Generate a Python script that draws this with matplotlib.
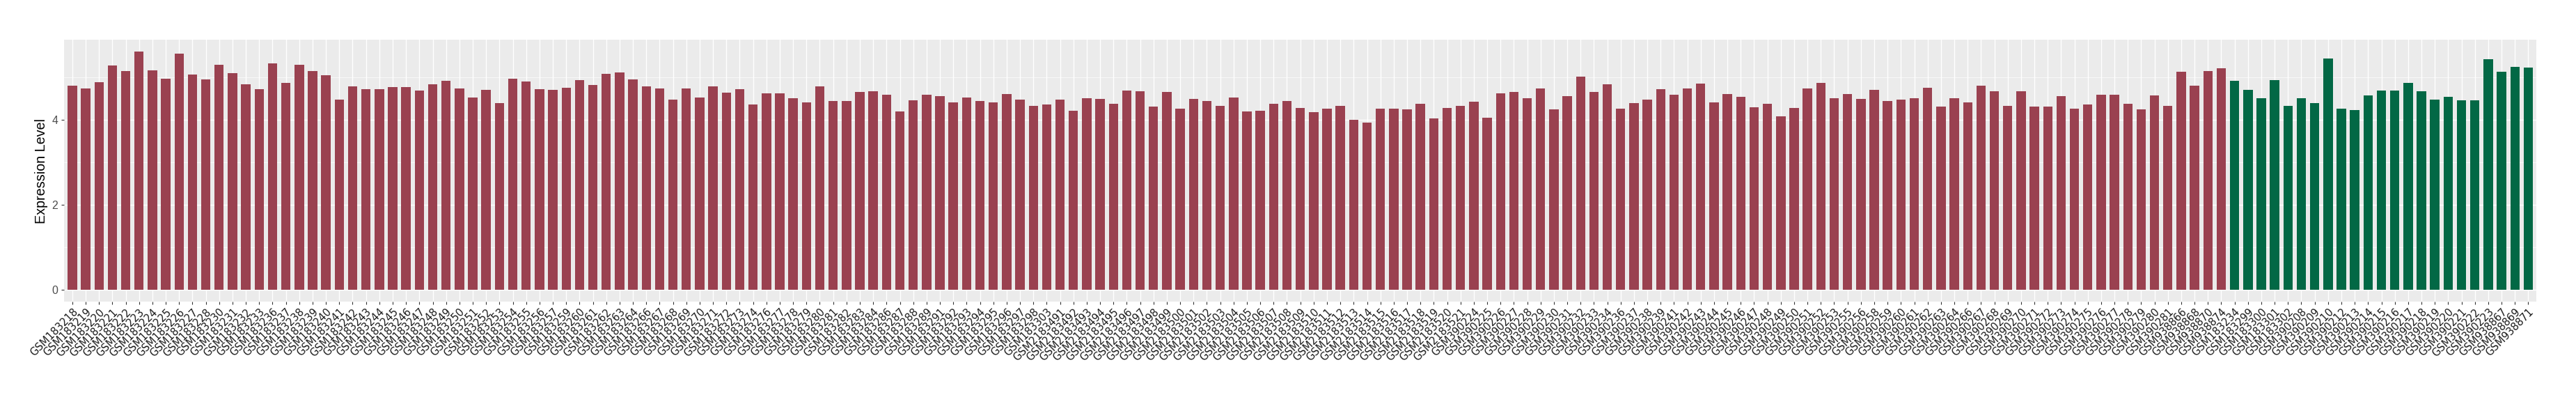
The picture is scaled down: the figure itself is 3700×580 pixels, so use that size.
import numpy as np
import matplotlib.pyplot as plt
from matplotlib.ticker import MultipleLocator

# sample ids, grouped by GEO prefix, in plotted order
tumor_183 = [218, 219, 220, 221, 222, 223, 224, 225, 226, 227, 228, 230, 231, 232, 233,
             236, 237, 238, 239, 240, 241, 242, 243, 244, 245, 246, 247, 248, 249, 250,
             251, 252, 253, 254, 255, 256, 257, 259, 260, 261, 262, 263, 264, 266, 267,
             268, 269, 270, 271, 272, 273, 274, 276, 277, 278, 279, 280, 281, 282, 283,
             284, 286, 287, 288, 289, 291, 292, 293, 294, 295, 296, 297, 298, 303]
tumor_2183 = list(range(491, 522))
tumor_390 = [224, 225, 226, 227, 228, 229, 230, 231, 232, 233, 234, 236, 237, 238, 239,
             241, 242, 243, 244, 245, 246, 247, 248, 249, 250, 251, 252, 253, 255, 256,
             258, 259, 260, 261, 262, 263, 264, 266, 267, 268, 269, 270, 271, 272, 273,
             274, 275, 276, 277, 278, 279, 280, 281]
tumor_938 = [866, 868, 870, 874]

normal_183 = [234, 299, 300, 301, 302]
normal_390 = [208, 209, 210, 212, 213, 214, 215, 216, 217, 218, 219, 220, 221, 222, 223]
normal_938 = [867, 869, 871]

tumor_vals = [4.80, 4.74, 4.88, 5.28, 5.15, 5.61, 5.17, 4.97, 5.56, 5.07, 4.95, 5.30, 5.10,
              4.84, 4.72, 5.33, 4.87, 5.30, 5.15, 5.05, 4.47, 4.79, 4.72, 4.72, 4.77, 4.77,
              4.69, 4.84, 4.92, 4.74, 4.52,
              4.70, 4.39, 4.97, 4.90, 4.72,
              4.70, 4.75, 4.93, 4.82, 5.08, 5.11, 4.95, 4.79, 4.74, 4.48, 4.74, 4.52, 4.79,
              4.64, 4.72,
              4.36, 4.62, 4.62, 4.51, 4.41, 4.79, 4.44, 4.44, 4.66, 4.67, 4.59, 4.20, 4.46, 4.59,
              4.56, 4.41, 4.52, 4.44, 4.41, 4.61, 4.48, 4.33, 4.36, 4.48, 4.21, 4.51, 4.49,
              4.38, 4.69,
              4.67, 4.31, 4.66, 4.26, 4.49, 4.44, 4.33, 4.52, 4.20, 4.21, 4.38, 4.44, 4.28,
              4.18, 4.26,
              4.33, 4.00, 3.93, 4.26, 4.26, 4.25, 4.38, 4.03, 4.28, 4.33, 4.43, 4.05, 4.62,
              4.66, 4.51,
              4.74, 4.25, 4.56, 5.02, 4.66, 4.84, 4.26, 4.39, 4.48, 4.72, 4.59, 4.74, 4.85, 4.41,
              4.61, 4.54, 4.30, 4.38, 4.08, 4.28, 4.74, 4.87, 4.51, 4.61, 4.49, 4.70, 4.44,
              4.48, 4.51,
              4.75, 4.31, 4.51, 4.41, 4.80, 4.67, 4.33, 4.67, 4.31, 4.31, 4.56, 4.26, 4.36, 4.59,
              4.59, 4.38, 4.25, 4.58, 4.33, 5.14, 4.80, 5.15, 5.21]

normal_vals = [4.92, 4.70, 4.51, 4.93, 4.33, 4.51, 4.39, 5.44, 4.26, 4.23, 4.58, 4.69,
               4.69, 4.87, 4.67, 4.47, 4.54, 4.46, 4.46, 5.42, 5.13, 5.24, 5.23]

tumor_labels = (['GSM183%d' % s for s in tumor_183] + ['GSM2183%d' % s for s in tumor_2183]
                + ['GSM390%d' % s for s in tumor_390] + ['GSM938%d' % s for s in tumor_938])
normal_labels = (['GSM183%d' % s for s in normal_183] + ['GSM390%d' % s for s in normal_390]
                 + ['GSM938%d' % s for s in normal_938])

labels = tumor_labels + normal_labels
values = tumor_vals + normal_vals
colors = ['#9A4150'] * len(tumor_vals) + ['#026845'] * len(normal_vals)
x = np.arange(len(labels))

fig = plt.figure(figsize=(37, 5.8), dpi=100)
ax = fig.add_axes([0.02497, 0.2529, 0.9596, 0.6493])
ax.set_facecolor('#EBEBEB')
ax.bar(x, values, width=0.7, color=colors, zorder=3)

ax.set_xlim(-0.6, len(labels) - 0.4)
ax.set_ylim(-0.2805, 5.8905)
ax.yaxis.set_major_locator(MultipleLocator(2))
ax.yaxis.set_minor_locator(MultipleLocator(1))
ax.grid(which='major', color='white', linewidth=1.0, zorder=0)
ax.grid(which='minor', axis='y', color='white', linewidth=0.5, zorder=0)
ax.tick_params(which='minor', length=0)
ax.tick_params(which='major', length=3, width=0.8, color='#333333', labelcolor='#4D4D4D')
ax.tick_params(axis='x', pad=2, labelcolor='#1A1A1A')
for s in ax.spines.values():
    s.set_visible(False)

ax.set_xticks(x)
ax.set_xticklabels(labels, rotation=45, ha='right', rotation_mode='anchor',
                   fontsize=10.6, family='DejaVu Sans')
for t in ax.get_yticklabels():
    t.set_fontsize(11.4)
    t.set_family('Liberation Sans')
ax.set_ylabel('Expression Level', fontsize=14.2, family='Liberation Sans', labelpad=4)

plt.savefig('out.png', dpi=100)
